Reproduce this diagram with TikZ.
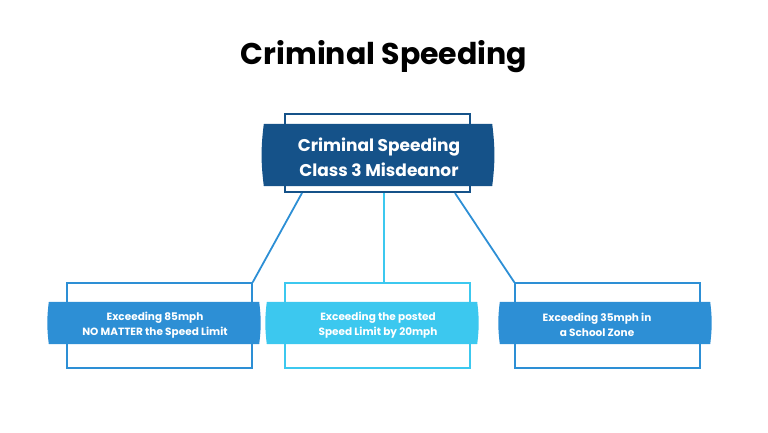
\documentclass[tikz,border=0pt]{standalone}
\usepackage{fontspec}
\setmainfont{Poppins}
\definecolor{dark}{HTML}{155289}
\definecolor{mid}{HTML}{2D8FD5}
\definecolor{cyan}{HTML}{3CC8EF}
\tikzset{
  outline/.style={draw=#1, line width=1.4pt, fill=white, minimum width=185pt, inner sep=0pt},
  band/.style={minimum width=210pt, inner sep=0pt, text=white, font=\bfseries, align=center},
  link/.style={line width=1.8pt}
}
\newcommand{\bulge}[2]{\fill[#2] (#1.north west) -- (#1.north east) to[bend left=7] (#1.south east) -- (#1.south west) to[bend left=7] (#1.north west);}
\begin{document}
\begin{tikzpicture}[x=1pt,y=-1pt]
\useasboundingbox (0,0) rectangle (768,432);
\node[font=\bfseries\fontsize{30}{36}\selectfont] (title) at (384,57) {Criminal Speeding};
% top
\node[outline=dark, minimum height=78pt] (tout) at (377.5,153) {};
\node[band, minimum width=228pt, minimum height=62pt] (tband) at (378,155) {};
\bulge{tband}{dark}
\node[band, font=\bfseries\fontsize{17}{25}\selectfont] (ttext) at (379,157) {Criminal Speeding\\Class 3 Misdeanor};
% bottom
\node[outline=mid, minimum height=85pt] (lout) at (159.5,325.5) {};
\node[outline=cyan, minimum height=85pt] (mout) at (377.5,325.5) {};
\node[outline=mid, minimum height=85pt] (rout) at (607.5,325.5) {};
\coordinate (c1) at (302,193);
\coordinate (c2) at (384,193);
\coordinate (c3) at (455,193);
\draw[link, mid] (c1) -- (lout.north east);
\draw[link, cyan] (c2) -- (mout.north -| c2);
\draw[link, mid] (c3) -- (rout.north west);
\node[band, minimum height=42pt] (lband) at (154,323) {};
\node[band, minimum height=42pt] (mband) at (372,323) {};
\node[band, minimum height=42pt] (rband) at (605,323) {};
\bulge{lband}{mid}
\bulge{mband}{cyan}
\bulge{rband}{mid}
\node[band, font=\bfseries\fontsize{10.5}{15}\selectfont] (ltext) at (155,325) {Exceeding 85mph\\NO MATTER the Speed Limit};
\node[band, font=\bfseries\fontsize{10.5}{15}\selectfont] (mtext) at (378,325) {Exceeding the posted\\Speed Limit by 20mph};
\node[band, font=\bfseries\fontsize{10.5}{15}\selectfont] (rtext) at (597,325) {Exceeding 35mph in\\a School Zone};
\end{tikzpicture}
\end{document}
